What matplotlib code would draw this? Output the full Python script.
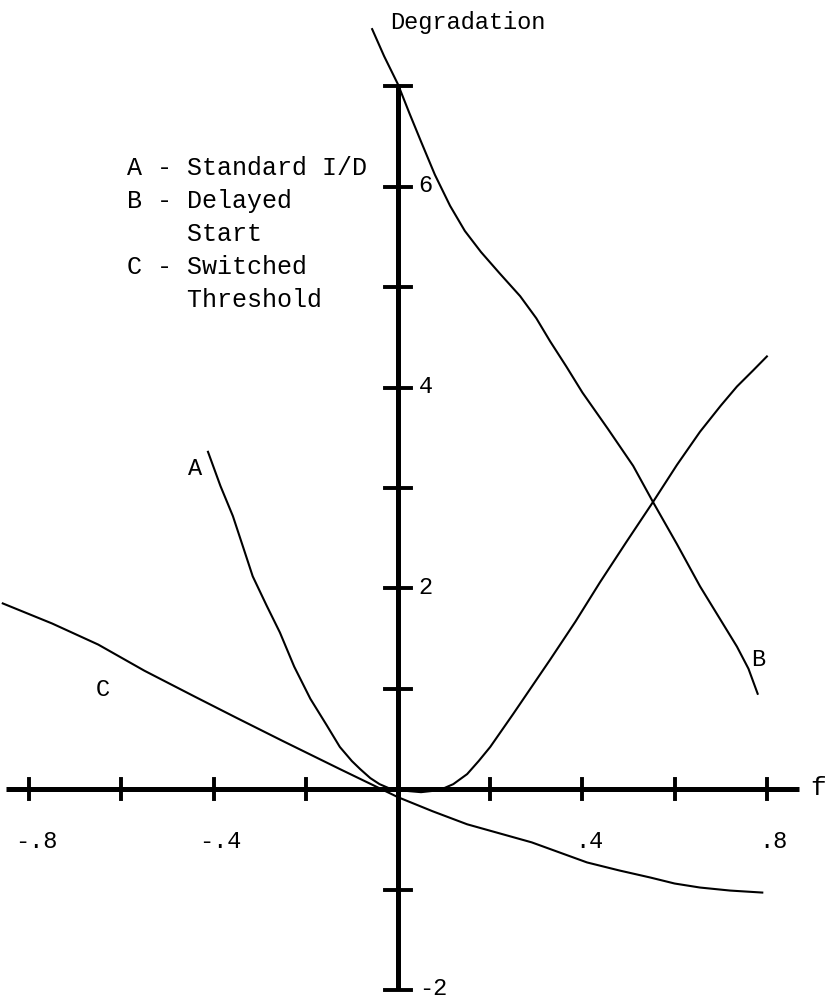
import matplotlib
matplotlib.use("Agg")
import matplotlib.pyplot as plt

# Curve A - Standard I/D
a_f = [-0.412, -0.385, -0.358, -0.335, -0.315, -0.285, -0.256, -0.225, -0.19, -0.155,
       -0.126, -0.10, -0.082, -0.06, -0.04, -0.02, 0.0, 0.05, 0.09, 0.12,
       0.15, 0.175, 0.20, 0.25, 0.29, 0.33, 0.385, 0.438, 0.495, 0.553,
       0.605, 0.655, 0.70, 0.735, 0.77, 0.80]
a_d = [3.36, 3.02, 2.72, 2.40, 2.12, 1.83, 1.56, 1.22, 0.90, 0.64,
       0.42, 0.28, 0.20, 0.11, 0.05, 0.01, -0.01, -0.03, -0.01, 0.05,
       0.15, 0.28, 0.42, 0.75, 1.02, 1.29, 1.67, 2.06, 2.46, 2.86,
       3.23, 3.56, 3.82, 4.01, 4.17, 4.31]

# Curve B - Delayed Start
b_f = [-0.056, -0.03, 0.0, 0.025, 0.05, 0.08, 0.113, 0.145, 0.18, 0.22,
       0.265, 0.30, 0.33, 0.365, 0.40, 0.455, 0.51, 0.553, 0.605, 0.655,
       0.695, 0.735, 0.76, 0.78]
b_d = [7.57, 7.30, 7.02, 6.73, 6.45, 6.12, 5.81, 5.56, 5.35, 5.14,
       4.91, 4.69, 4.46, 4.21, 3.95, 3.59, 3.22, 2.86, 2.44, 2.02,
       1.72, 1.42, 1.20, 0.95]

# Curve C - Switched Threshold
c_f = [-0.857, -0.75, -0.65, -0.55, -0.44, -0.35, -0.25, -0.126, 0.0, 0.075,
       0.15, 0.22, 0.29, 0.35, 0.41, 0.48, 0.547, 0.60, 0.655, 0.72, 0.79]
c_d = [1.85, 1.65, 1.44, 1.18, 0.92, 0.71, 0.48, 0.20, -0.08, -0.22,
       -0.35, -0.44, -0.53, -0.63, -0.73, -0.81, -0.88, -0.94, -0.98, -1.01, -1.03]

x_ticks = [-0.8, -0.6, -0.4, -0.2, 0.2, 0.4, 0.6, 0.8]
x_tick_labels = {-0.8: "-.8", -0.4: "-.4", 0.4: ".4", 0.8: ".8"}
y_ticks = [-2, -1, 1, 2, 3, 4, 5, 6, 7]
y_tick_labels = {6: "6", 4: "4", 2: "2", -2: "-2"}

legend_lines = ["A - Standard I/D", "B - Delayed", "    Start",
                "C - Switched", "    Threshold"]

FONT = "Liberation Mono"

fig = plt.figure(figsize=(8.25, 10.03), dpi=100)
ax = fig.add_axes([0, 0, 1, 1])
ax.set_xlim(-0.863, 0.926)
ax.set_ylim(-2.12, 7.87)
ax.axis("off")

ink = "black"
axis_lw = 3.6
curve_lw = 1.5

# axes drawn through the origin
ax.plot([-0.85, 0.87], [0, 0], color=ink, lw=axis_lw, solid_capstyle="butt")
ax.plot([0, 0], [-2.0, 7.02], color=ink, lw=axis_lw, solid_capstyle="butt")

# tick marks
for t in x_ticks:
    ax.plot([t, t], [-0.1, 0.1], color=ink, lw=2.8)
for t in y_ticks:
    ax.plot([-0.028, 0.028], [t, t], color=ink, lw=2.8)

# tick labels
for t, s in x_tick_labels.items():
    ax.text(t + 0.015, -0.51, s, family=FONT, fontsize=17, ha="center", va="center")
for t, s in y_tick_labels.items():
    ax.text(0.045, t + 0.02, s, family=FONT, fontsize=17, ha="left", va="center")

# curves
for xs, ys in ((a_f, a_d), (b_f, b_d), (c_f, c_d)):
    ax.plot(xs, ys, color=ink, lw=curve_lw, solid_joinstyle="round")

# curve labels
ax.text(-0.44, 3.2, "A", family=FONT, fontsize=17, ha="center", va="center")
ax.text(0.781, 1.3, "B", family=FONT, fontsize=17, ha="center", va="center")
ax.text(-0.64, 1.0, "C", family=FONT, fontsize=17, ha="center", va="center")

# axis titles
ax.text(-0.017, 7.65, "Degradation", family=FONT, fontsize=17, ha="left", va="center")
ax.text(0.895, 0.02, "f", family=FONT, fontsize=19, ha="left", va="center")

# legend block
for i, line in enumerate(legend_lines):
    ax.text(-0.588, 6.20 - i * 0.33, line, family=FONT, fontsize=18,
            ha="left", va="center")

fig.savefig("out.png", dpi=100, facecolor="white")
